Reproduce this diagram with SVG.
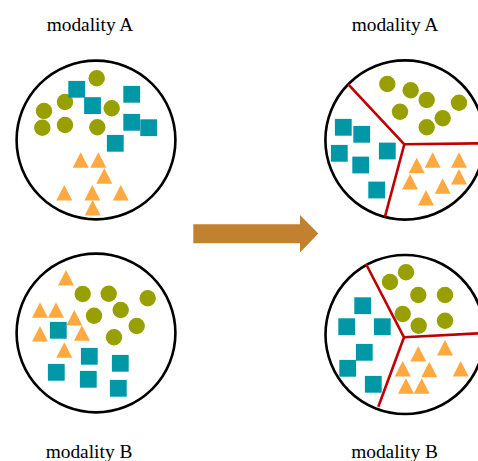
<svg xmlns="http://www.w3.org/2000/svg" width="478" height="461" viewBox="0 0 478 461">
<style>
.lbl{font-family:"Liberation Serif","Times New Roman",serif;font-size:19.4px;fill:#000;text-anchor:middle}
.ring{fill:#fff;stroke:#000;stroke-width:2.6}
.c{fill:#98a000}
.s{fill:#0097a7}
.t{fill:#ffa940}
.div{stroke:#c00000;stroke-width:2.6;fill:none}
</style>
<defs>
<rect id="sq" x="-8.4" y="-8.4" width="16.8" height="16.8"/>
<circle id="ci" r="8.2"/>
<polygon id="tr" points="0,0 8,15.5 -8,15.5"/>
</defs>
<rect width="478" height="461" fill="#fff"/>
<text class="lbl" x="90" y="31">modality A</text>
<text class="lbl" x="395" y="31">modality A</text>
<text class="lbl" x="89" y="458">modality B</text>
<text class="lbl" x="394.5" y="458">modality B</text>

<g id="topLeft">
<circle class="ring" cx="96" cy="140" r="79.4"/>
<g class="c">
<use href="#ci" x="96.7" y="78.3"/><use href="#ci" x="65" y="102"/><use href="#ci" x="44" y="111"/><use href="#ci" x="111.7" y="108.3"/><use href="#ci" x="42.3" y="127.7"/><use href="#ci" x="65" y="125"/><use href="#ci" x="97.3" y="127.3"/>
</g>
<g class="s">
<use href="#sq" x="76.7" y="89.3"/><use href="#sq" x="92.5" y="105.6"/><use href="#sq" x="131.7" y="94.3"/><use href="#sq" x="131.7" y="122.3"/><use href="#sq" x="148.7" y="127.7"/><use href="#sq" x="115.3" y="143.3"/>
</g>
<g class="t">
<use href="#tr" x="80.7" y="152.3"/><use href="#tr" x="98.3" y="152.3"/><use href="#tr" x="104.3" y="168.3"/><use href="#tr" x="64.3" y="185"/><use href="#tr" x="92.3" y="185"/><use href="#tr" x="120.7" y="185"/><use href="#tr" x="92.7" y="200"/>
</g>
</g>

<g id="bottomLeft">
<circle class="ring" cx="96" cy="333" r="79.4"/>
<g class="t">
<use href="#tr" x="66" y="270"/><use href="#tr" x="40" y="302.3"/><use href="#tr" x="56" y="302.3"/><use href="#tr" x="74.3" y="310"/><use href="#tr" x="40" y="326"/><use href="#tr" x="82" y="325.3"/><use href="#tr" x="64.3" y="342.3"/>
</g>
<g class="c">
<use href="#ci" x="82.7" y="294"/><use href="#ci" x="108.7" y="293.7"/><use href="#ci" x="147.7" y="298.3"/><use href="#ci" x="94" y="315.7"/><use href="#ci" x="120.7" y="310"/><use href="#ci" x="136.7" y="326"/><use href="#ci" x="114" y="337.3"/>
</g>
<g class="s">
<use href="#sq" x="58.3" y="330.3"/><use href="#sq" x="89.3" y="356.3"/><use href="#sq" x="120.3" y="363.3"/><use href="#sq" x="56.3" y="372.3"/><use href="#sq" x="88.3" y="379.3"/><use href="#sq" x="118.3" y="388.3"/>
</g>
</g>

<g id="topRight">
<circle class="ring" cx="405" cy="140" r="79.6"/>
<g class="c">
<use href="#ci" x="387.3" y="84"/><use href="#ci" x="410.7" y="90.3"/><use href="#ci" x="426.7" y="100"/><use href="#ci" x="459" y="102.7"/><use href="#ci" x="400" y="111.7"/><use href="#ci" x="442.7" y="118.3"/><use href="#ci" x="426.7" y="127.3"/>
</g>
<g class="s">
<use href="#sq" x="343.3" y="127.3"/><use href="#sq" x="361.7" y="134.3"/><use href="#sq" x="387.3" y="151"/><use href="#sq" x="339.3" y="153.3"/><use href="#sq" x="360.7" y="165"/><use href="#sq" x="376.7" y="190"/>
</g>
<g class="t">
<use href="#tr" x="416.7" y="157.7"/><use href="#tr" x="432.7" y="152.3"/><use href="#tr" x="459" y="152.3"/><use href="#tr" x="410" y="174"/><use href="#tr" x="459" y="169"/><use href="#tr" x="442.7" y="178.3"/><use href="#tr" x="426" y="190"/>
</g>
</g>

<g id="bottomRight">
<circle class="ring" cx="405" cy="334.5" r="79.5"/>
<g class="c">
<use href="#ci" x="390" y="282"/><use href="#ci" x="406" y="272.3"/><use href="#ci" x="418.3" y="295"/><use href="#ci" x="445" y="295"/><use href="#ci" x="402.7" y="314"/><use href="#ci" x="418.7" y="325.7"/><use href="#ci" x="445" y="320.7"/>
</g>
<g class="s">
<use href="#sq" x="362.7" y="305.7"/><use href="#sq" x="346.7" y="326.7"/><use href="#sq" x="382.3" y="326.7"/><use href="#sq" x="364.3" y="352.3"/><use href="#sq" x="347.7" y="368.3"/><use href="#sq" x="373.3" y="384.3"/>
</g>
<g class="t">
<use href="#tr" x="418.3" y="346"/><use href="#tr" x="445" y="340"/><use href="#tr" x="402.7" y="361"/><use href="#tr" x="429.3" y="361.7"/><use href="#tr" x="460.7" y="361"/><use href="#tr" x="406" y="378.3"/><use href="#tr" x="421.7" y="378.3"/>
</g>
</g>

<g id="connectors">
<polyline class="div" points="348.3,84.3 404.3,144.3 385,216.7"/>
<line class="div" x1="404.3" y1="144.3" x2="485" y2="143.3"/>
<polyline class="div" points="366,264 404,337.3 378.3,406.7"/>
<line class="div" x1="404" y1="337.3" x2="485" y2="333"/>
<polygon fill="#c1812f" points="193.3,224.3 300,224.3 300,215 318.3,233.5 300,252.5 300,243.3 193.3,243.3"/>
</g>
</svg>
